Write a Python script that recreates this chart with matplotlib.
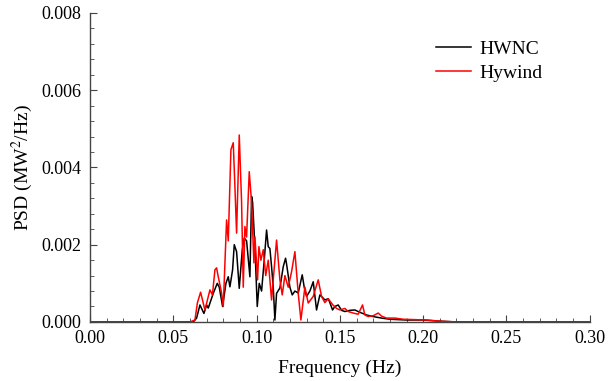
import numpy as np
import matplotlib.pyplot as plt
from matplotlib.ticker import MultipleLocator, FormatStrFormatter

# frequencia (Hz) e PSD (MW^2/Hz)
freq_hywind = [0.000, 0.060, 0.063, 0.0645, 0.0664, 0.069, 0.072, 0.0735, 0.075, 0.076,
               0.077, 0.079, 0.080, 0.082, 0.083, 0.0846, 0.086, 0.087, 0.088, 0.0896,
               0.091, 0.092, 0.093, 0.094, 0.0956, 0.097, 0.0984, 0.099, 0.1006, 0.1014,
               0.1026, 0.104, 0.1055, 0.107, 0.109, 0.112, 0.114, 0.1154, 0.117, 0.119,
               0.121, 0.123, 0.125, 0.1266, 0.129, 0.131, 0.134, 0.137, 0.139, 0.141,
               0.143, 0.1458, 0.148, 0.150, 0.153, 0.155, 0.158, 0.161, 0.1636, 0.165,
               0.167, 0.170, 0.173, 0.175, 0.178, 0.183, 0.188, 0.195, 0.202, 0.210,
               0.220, 0.300]
psd_hywind = [0, 0, 0.00005, 0.0005, 0.00077, 0.00031, 0.00083, 0.0007, 0.00135, 0.0014,
              0.00117, 0.00075, 0.0004, 0.00264, 0.0021, 0.00446, 0.00464, 0.0035, 0.0023, 0.00484,
              0.0031, 0.0009, 0.00247, 0.0022, 0.00389, 0.0031, 0.00153, 0.0022, 0.00109, 0.00195,
              0.0016, 0.00187, 0.0012, 0.0016, 0.00057, 0.00212, 0.00109, 0.0007, 0.0012, 0.0009,
              0.0013, 0.00182, 0.00074, 0.00005, 0.0009, 0.00049, 0.00066, 0.00109, 0.00066, 0.0005,
              0.0006, 0.00044, 0.00035, 0.00031, 0.00035, 0.00027, 0.00023, 0.0002, 0.00044, 0.00018,
              0.00014, 0.00016, 0.00023, 0.00015, 0.0001, 0.0001, 0.00007, 0.00006, 0.00005, 0.00002,
              0, 0]

freq_hwnc = [0.000, 0.062, 0.064, 0.066, 0.0684, 0.070, 0.071, 0.074, 0.0764, 0.0776,
             0.0796, 0.0816, 0.083, 0.084, 0.0856, 0.0866, 0.088, 0.0896, 0.0914, 0.0926,
             0.094, 0.096, 0.097, 0.0976, 0.099, 0.1004, 0.1016, 0.103, 0.1046, 0.106,
             0.107, 0.108, 0.109, 0.110, 0.111, 0.112, 0.114, 0.116, 0.1174, 0.118,
             0.120, 0.1214, 0.123, 0.125, 0.1274, 0.1286, 0.130, 0.132, 0.134, 0.136,
             0.138, 0.139, 0.141, 0.143, 0.144, 0.1456, 0.147, 0.149, 0.151, 0.153,
             0.156, 0.159, 0.162, 0.166, 0.170, 0.175, 0.180, 0.190, 0.200, 0.210,
             0.220, 0.300]
psd_hwnc = [0, 0, 0.0001, 0.00044, 0.00022, 0.00044, 0.00036, 0.00074, 0.001, 0.0009,
            0.0004, 0.001, 0.00117, 0.00091, 0.00135, 0.002, 0.00182, 0.00087, 0.00186, 0.00217,
            0.0021, 0.00117, 0.00325, 0.0031, 0.00195, 0.0004, 0.001, 0.0008, 0.0016, 0.00238,
            0.00195, 0.0019, 0.00143, 0.0009, 0.00005, 0.00074, 0.00088, 0.00143, 0.00165, 0.0015,
            0.0009, 0.0007, 0.0008, 0.00075, 0.00122, 0.0009, 0.00066, 0.0008, 0.00104, 0.00031,
            0.0007, 0.00066, 0.00057, 0.0006, 0.0005, 0.00031, 0.0004, 0.00044, 0.0003, 0.00027,
            0.0003, 0.00031, 0.00025, 0.00018, 0.00014, 0.0001, 0.00007, 0.00005, 0.00005, 0.00002,
            0, 0]

plt.rcParams['font.family'] = ['Liberation Serif', 'DejaVu Serif']
plt.rcParams['mathtext.fontset'] = 'stix'

fig = plt.figure(figsize=(6.08, 3.81), dpi=100)
ax = fig.add_axes([0.148, 0.155, 0.822, 0.811])

ax.plot(freq_hwnc, psd_hwnc, color='black', lw=1.1, label='HWNC')
ax.plot(freq_hywind, psd_hywind, color='red', lw=1.1, label='Hywind')

ax.set_xlim(0, 0.3)
ax.set_ylim(0, 0.008)
ax.xaxis.set_major_locator(MultipleLocator(0.05))
ax.xaxis.set_minor_locator(MultipleLocator(0.01))
ax.yaxis.set_major_locator(MultipleLocator(0.002))
ax.yaxis.set_minor_locator(MultipleLocator(0.0004))
ax.xaxis.set_major_formatter(FormatStrFormatter('%.2f'))
ax.yaxis.set_major_formatter(FormatStrFormatter('%.3f'))

ax.spines['top'].set_visible(False)
ax.spines['right'].set_visible(False)
for s in ['left', 'bottom']:
    ax.spines[s].set_color('#444444')
    ax.spines[s].set_linewidth(1.0)
ax.tick_params(which='both', direction='in', colors='#444444', labelcolor='black', labelsize=13)
ax.tick_params(which='major', length=5)
ax.tick_params(which='minor', length=3)
ax.tick_params(axis='x', which='major', pad=6)
ax.tick_params(axis='y', which='major', pad=6)

ax.set_xlabel('Frequency (Hz)', fontsize=14, labelpad=9)
ax.set_ylabel('PSD (MW$^2$/Hz)', fontsize=14, labelpad=5)

ax.legend(loc='upper left', bbox_to_anchor=(0.658, 0.967), frameon=False, fontsize=14,
          handlelength=1.8, handletextpad=0.4, labelspacing=0.3)

fig.savefig('out.png', dpi=100)
